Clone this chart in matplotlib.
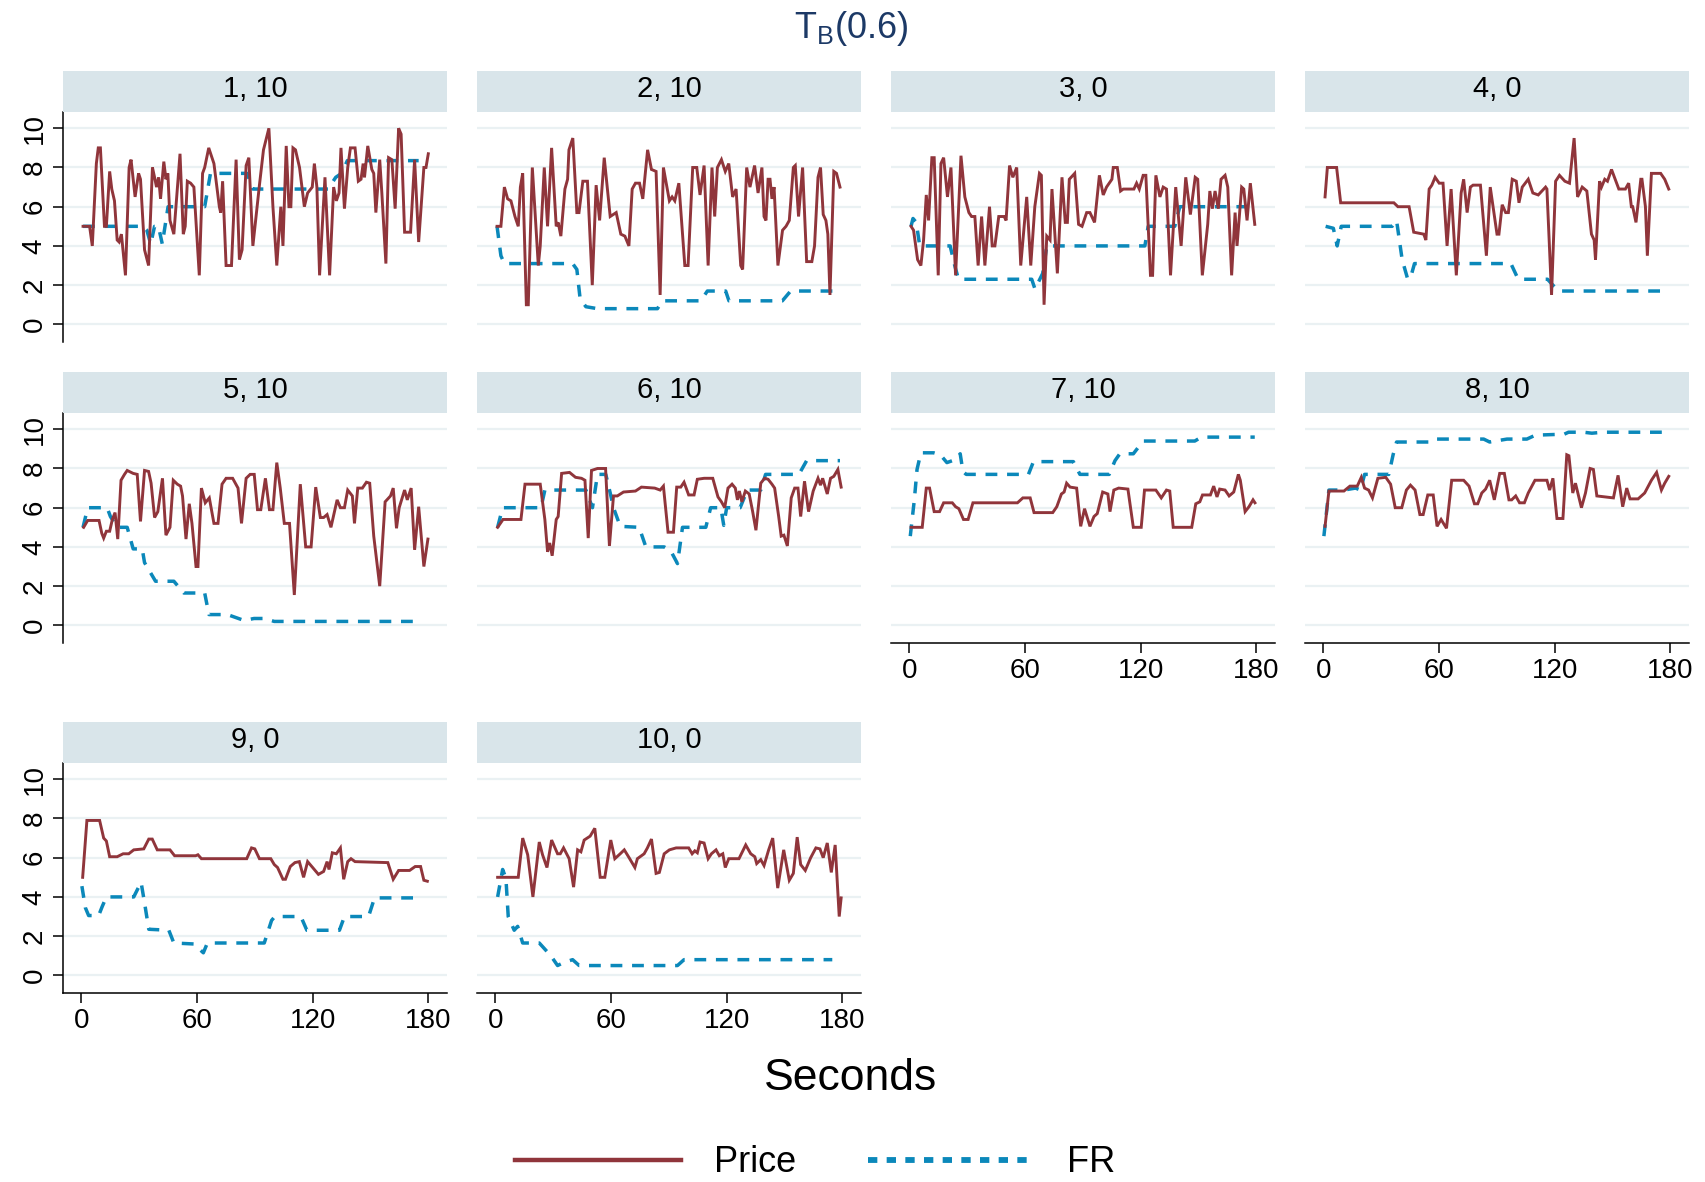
import matplotlib
matplotlib.use("Agg")
import matplotlib.pyplot as plt
from matplotlib.lines import Line2D

plt.rcParams['font.family'] = ['Liberation Sans', 'DejaVu Sans']
plt.rcParams['mathtext.fontset'] = 'custom'
plt.rcParams['mathtext.rm'] = 'Liberation Sans'

# ---------------------------------------------------------------- data
# (second, value) pairs for each market; FR = fundamental reference
panel_titles = ["1, 10", "2, 10", "3, 0", "4, 0", "5, 10",
                "6, 10", "7, 10", "8, 10", "9, 0", "10, 0"]

p1_price = [(0.9,5.0),(4.3,5.0),(5.7,4.0),(7.8,8.2),(8.8,9.0),(9.9,9.0),(12.0,5.0),(13.0,5.0),
            (14.7,7.8),(15.8,6.9),(17.2,6.3),(18.6,4.3),(19.6,4.2),(20.8,4.6),(22.9,2.5),(24.8,8.0),
            (25.8,8.4),(27.9,6.5),(29.7,7.7),(30.7,7.4),(32.8,3.8),(34.9,3.0),(36.9,8.0),(38.0,7.5),
            (39.0,7.0),(40.1,7.5),(41.1,6.4),(42.8,8.3),(43.9,7.4),(44.9,7.7),(46.0,5.3),(48.0,4.6),
            (51.2,8.7),(52.9,4.6),(53.9,5.0),(55.0,7.3),(56.7,7.2),(58.4,7.0),(61.2,2.5),(62.9,7.7),
            (64.0,8.0),(66.1,9.0),(68.8,8.2),(71.6,6.0),(72.3,5.7),(73.3,7.3),(75.1,3.0),(77.9,3.0),
            (80.3,8.4),(82.0,3.3),(83.4,3.8),(85.5,8.1),(86.9,8.5),(89.0,4.0),(92.4,7.1),(94.5,8.9),
            (97.3,10.0),(99.4,6.0),(101.4,3.0),(103.5,6.0),(104.6,4.0),(106.3,9.1),(107.7,6.0),(108.7,6.0),
            (109.8,9.0),(111.1,8.9),(113.2,8.0),(115.7,6.0),(117.4,6.7),(119.8,7.0),(120.9,8.2),(122.2,7.0),
            (123.6,2.5),(126.4,7.5),(128.8,2.5),(130.9,7.0),(132.3,6.3),(133.7,6.7),(134.7,9.0),(136.5,5.9),
            (138.2,8.0),(139.6,9.0),(142.0,9.0),(143.7,7.3),(145.1,7.4),(146.2,8.2),(146.9,7.5),(148.6,9.1),
            (150.7,7.9),(151.7,7.7),(152.8,5.7),(154.8,8.4),(155.9,6.7),(158.0,3.1),(159.4,8.5),(161.1,8.4),
            (162.8,5.9),(164.6,10.0),(165.9,9.7),(167.7,4.7),(170.8,4.7),(172.9,8.4),(175.0,4.2),(177.7,8.0),
            (178.8,8.0),(180.0,8.7)]
p1_fr = [(0.9,5.0),(32.0,5.0),(34.0,4.8),(36.0,4.1),(38.0,5.0),(40.0,5.0),(42.0,4.1),(45.0,6.0),
         (64.0,6.0),(67.0,7.7),(86.0,7.7),(89.0,6.9),(128.0,6.9),(132.0,7.5),(135.0,7.7),(138.0,8.35),
         (175.0,8.35)]

p2_price = [(0.9,5.0),(2.9,5.0),(4.7,7.0),(6.4,6.4),(8.1,6.3),(10.2,5.5),(11.9,5.0),(13.0,7.0),
            (14.2,7.7),(16.1,1.0),(17.1,1.0),(19.2,8.0),(22.3,3.0),(23.3,4.0),(25.4,8.0),(27.1,5.0),
            (29.2,9.0),(31.6,5.0),(32.6,5.2),(34.0,4.5),(36.1,6.9),(37.5,7.4),(38.2,8.9),(40.2,9.5),
            (42.3,5.7),(43.4,5.7),(45.4,7.3),(47.8,7.3),(50.3,2.0),(52.3,7.1),(54.1,5.3),(56.5,8.5),
            (59.6,5.5),(62.7,5.7),(65.1,4.6),(67.2,4.5),(69.3,4.0),(71.0,6.9),(72.7,7.2),(74.8,7.2),
            (76.5,6.4),(79.0,8.9),(81.0,7.9),(83.4,7.8),(85.5,1.5),(87.2,8.0),(90.3,6.3),(91.7,6.5),
            (93.1,6.3),(95.2,7.2),(98.3,3.0),(100.0,3.0),(102.4,8.0),(104.5,8.0),(106.2,6.6),(108.3,8.1),
            (110.4,3.0),(112.4,8.0),(113.8,5.5),(115.2,8.0),(117.3,8.4),(119.3,7.8),(121.1,8.2),(123.1,6.5),
            (124.9,6.9),(127.3,3.0),(128.3,2.8),(130.4,8.0),(132.1,7.0),(134.5,8.1),(136.3,6.7),(138.3,8.0),
            (139.4,5.5),(140.4,5.3),(141.5,7.4),(142.5,7.4),(143.5,6.4),(144.6,7.0),(146.6,3.0),(149.0,4.8),
            (150.8,5.0),(152.5,5.3),(154.6,8.0),(155.6,8.1),(157.3,5.5),(159.4,8.0),(161.5,3.2),(164.2,3.2),
            (165.6,4.0),(167.4,7.5),(168.7,8.0),(170.1,5.6),(171.5,5.3),(172.5,4.6),(173.6,1.5),(175.6,7.8),
            (177.0,7.7),(178.8,7.0)]
p2_fr = [(0.9,5.0),(2.9,3.5),(4.7,3.1),(40.1,3.1),(42.3,2.8),(44.0,1.3),(47.0,0.9),(53.0,0.8),
         (84.1,0.8),(86.7,1.2),(106.6,1.2),(110.0,1.7),(119.5,1.7),(121.2,1.2),(148.9,1.2),(153.2,1.7),
         (178.8,1.7)]

p3_price = [(0.9,5.0),(2.2,4.8),(4.3,3.3),(6.0,3.0),(7.4,4.3),(8.8,6.6),(10.0,5.3),(11.7,8.5),
            (12.9,8.5),(15.0,2.5),(16.4,8.2),(17.8,8.5),(19.8,6.5),(21.6,8.0),(24.0,2.5),(26.8,8.6),
            (28.8,6.5),(30.9,5.7),(32.3,5.5),(34.0,5.5),(35.7,3.0),(37.5,5.5),(39.2,3.0),(41.6,6.0),
            (43.0,4.0),(44.4,4.0),(46.4,5.5),(49.2,5.5),(50.2,5.3),(52.0,8.1),(53.7,7.5),(55.7,8.0),
            (57.8,3.0),(60.9,6.5),(63.0,3.0),(65.1,6.0),(67.5,7.7),(68.5,7.6),(69.9,1.0),(71.3,4.5),
            (73.0,4.3),(74.0,6.9),(76.8,2.6),(79.2,7.5),(80.9,5.2),(82.0,5.2),(83.0,7.4),(85.8,7.7),
            (87.8,5.1),(89.6,5.0),(92.0,5.7),(93.7,5.7),(96.1,5.2),(98.6,7.6),(100.6,6.6),(102.3,7.0),
            (105.1,7.4),(105.8,8.0),(107.9,8.0),(109.6,6.8),(111.0,6.9),(116.5,6.9),(117.9,7.2),(119.3,6.9),
            (121.3,7.6),(122.7,7.6),(125.1,2.5),(126.2,2.5),(127.9,7.6),(130.0,6.5),(131.7,7.0),(133.4,6.9),
            (135.5,2.5),(138.2,7.0),(141.0,4.0),(143.4,7.5),(145.8,5.6),(148.3,7.5),(149.6,7.4),(152.0,2.5),
            (154.8,5.1),(155.9,6.8),(157.2,5.9),(158.6,6.8),(160.3,5.9),(161.7,7.4),(163.8,7.6),(165.2,7.0),
            (167.2,2.5),(169.0,5.7),(170.0,4.0),(172.4,7.0),(173.5,6.9),(175.2,5.3),(176.9,7.2),(179.2,5.1)]
p3_fr = [(0.9,5.0),(1.9,5.4),(3.6,5.2),(5.4,4.0),(21.2,4.0),(23.3,3.1),(25.5,2.3),(63.5,2.3),
         (65.2,1.8),(69.2,2.6),(71.3,4.0),(122.2,4.0),(123.9,5.0),(137.7,5.0),(140.3,6.0),(176.2,6.0)]

p4_price = [(0.9,6.5),(2.1,8.0),(6.9,8.0),(9.0,6.2),(36.6,6.2),(38.7,6.0),(44.5,6.0),(46.9,4.7),
            (52.1,4.6),(53.2,4.3),(54.9,6.9),(56.3,7.1),(58.0,7.5),(60.1,7.2),(62.1,7.2),(64.2,4.0),
            (66.3,6.9),(69.0,2.5),(71.5,6.7),(72.8,7.4),(74.6,5.7),(76.3,7.0),(77.7,7.1),(81.5,7.1),
            (84.6,3.5),(86.6,7.0),(90.1,4.6),(91.1,4.6),(92.8,6.1),(94.6,5.7),(96.0,5.7),(98.0,7.4),
            (100.1,7.3),(101.5,6.2),(103.2,7.0),(106.3,7.4),(108.7,6.7),(111.5,6.6),(115.3,7.0),(116.0,6.9),
            (118.4,1.5),(120.5,7.3),(122.5,7.6),(125.3,7.3),(127.7,7.2),(130.1,9.5),(131.9,6.5),(134.3,7.0),
            (136.7,6.8),(139.1,4.6),(140.5,4.3),(141.2,3.3),(143.3,7.3),(144.3,7.0),(146.0,7.4),(147.4,7.3),
            (149.5,7.9),(153.3,6.9),(156.7,6.9),(158.4,7.2),(159.8,6.0),(160.5,6.0),(162.2,5.2),(164.7,7.4),
            (165.3,7.4),(167.1,6.0),(168.1,3.5),(170.2,7.7),(175.0,7.7),(177.1,7.4),(179.2,6.9)]
p4_fr = [(1.2,5.0),(5.2,4.9),(7.2,4.0),(9.3,5.0),(35.7,5.0),(38.0,5.3),(40.9,3.3),(43.8,2.3),
         (45.6,2.5),(47.3,3.1),(97.3,3.1),(101.1,2.3),(116.3,2.3),(119.1,2.0),(122.0,1.7),(179.0,1.7)]

p5_price = [(1.2,5.0),(3.3,5.35),(9.2,5.35),(10.6,4.7),(11.6,4.45),(13.0,4.8),(14.7,4.8),(16.1,5.4),
            (17.5,5.75),(18.9,4.4),(20.6,7.4),(22.4,7.7),(23.8,7.9),(26.9,7.75),(29.0,7.7),(30.7,5.3),
            (32.8,7.9),(34.9,7.85),(36.2,7.25),(38.0,5.5),(39.7,5.8),(42.1,7.5),(43.9,4.6),(46.0,5.0),
            (47.7,7.4),(49.8,7.2),(51.5,7.1),(52.5,6.6),(54.3,4.4),(56.0,6.2),(57.4,5.2),(59.5,3.0),
            (60.5,3.0),(62.3,7.0),(64.3,6.25),(66.4,6.5),(68.8,5.2),(70.9,5.2),(73.0,7.2),(75.1,7.5),
            (78.5,7.5),(81.3,7.0),(83.1,5.2),(85.5,7.5),(87.6,7.7),(89.7,7.7),(91.4,5.9),(93.1,5.9),
            (95.5,7.5),(97.6,5.9),(99.4,5.9),(101.4,8.3),(103.2,7.0),(105.3,5.2),(108.0,5.2),(110.5,1.55),
            (113.6,7.2),(116.4,4.0),(119.2,4.0),(121.6,7.05),(124.0,5.5),(125.7,5.5),(127.5,5.65),(129.5,5.0),
            (132.7,6.4),(134.4,6.0),(136.5,6.0),(138.2,6.9),(140.6,6.6),(141.7,5.2),(143.4,7.0),(145.8,7.0),
            (147.9,7.3),(149.6,7.25),(151.7,4.55),(154.8,2.0),(157.6,6.3),(160.4,6.6),(161.8,7.0),(163.5,4.95),
            (164.9,6.0),(167.7,6.9),(169.1,6.4),(171.1,7.0),(172.9,3.85),(175.0,6.05),(177.7,3.0),(179.8,4.4)]
p5_fr = [(0.9,5.0),(3.3,6.0),(13.4,6.0),(15.1,5.55),(18.6,5.0),(23.8,5.0),(26.9,3.9),(31.6,3.9),
         (32.8,3.2),(38.5,2.25),(48.0,2.25),(53.2,1.65),(64.0,1.65),(66.2,0.55),(75.8,0.55),(84.4,0.25),
         (89.6,0.35),(94.9,0.35),(100.1,0.2),(102.7,0.2),(175.5,0.2)]

p6_price = [(1.2,5.0),(4.0,5.4),(13.3,5.4),(15.4,7.2),(23.3,7.2),(25.7,5.4),(27.1,3.75),(28.2,4.2),
            (29.5,3.55),(31.6,5.4),(32.6,5.55),(34.4,7.75),(38.5,7.8),(41.6,7.55),(44.7,7.5),(46.5,7.4),
            (48.2,4.45),(49.9,7.9),(53.0,8.0),(57.2,8.0),(59.2,4.05),(61.3,6.6),(63.3,6.6),(66.5,6.8),
            (72.7,6.85),(75.8,7.05),(82.7,7.0),(85.5,6.9),(87.2,7.1),(89.6,4.75),(92.4,4.75),(94.1,7.05),
            (96.2,7.05),(97.9,7.3),(100.3,6.65),(103.1,6.65),(104.8,7.45),(108.3,7.5),(112.8,7.5),(115.5,6.55),
            (117.3,6.3),(119.0,6.0),(120.7,7.0),(122.8,7.2),(124.5,7.0),(125.6,6.4),(126.6,6.85),(127.9,6.3),
            (129.7,6.85),(131.7,6.7),(133.5,5.8),(135.2,4.85),(137.7,7.25),(139.7,7.5),(141.5,7.45),(143.5,7.2),
            (144.9,7.0),(147.0,5.55),(148.3,4.55),(149.7,4.6),(151.5,4.05),(153.5,6.5),(155.3,7.0),(157.0,7.0),
            (158.4,5.55),(160.4,7.35),(162.5,5.8),(164.9,6.85),(167.4,7.5),(168.7,7.15),(169.8,7.5),(172.2,6.7),
            (173.9,7.5),(175.6,7.6),(177.7,7.95),(179.4,7.05)]
p6_fr = [(1.2,5.0),(3.8,6.0),(23.7,6.0),(25.7,6.9),(47.0,6.9),(50.4,6.0),(53.0,7.7),(57.3,7.7),
         (59.6,6.75),(61.3,6.0),(64.8,5.05),(74.6,5.0),(78.1,4.0),(87.6,4.0),(91.0,3.8),(94.5,3.15),
         (97.1,5.0),(109.2,5.0),(111.7,6.0),(117.0,6.0),(118.5,5.1),(120.0,6.0),(127.0,6.0),(130.7,6.9),
         (137.7,6.9),(140.2,7.7),(157.5,7.7),(161.5,8.4),(178.8,8.4)]

p7_price = [(0.9,5.0),(6.7,5.0),(8.8,7.0),(10.5,7.0),(12.9,5.8),(15.7,5.8),(17.8,6.25),(22.3,6.25),
            (24.0,6.05),(25.7,5.95),(28.1,5.4),(30.5,5.4),(33.0,6.25),(56.1,6.25),(58.9,6.5),(62.7,6.5),
            (64.7,5.75),(74.4,5.75),(76.5,6.05),(78.9,6.7),(80.3,6.8),(81.6,7.25),(83.4,7.05),(86.8,7.0),
            (88.9,5.05),(90.9,5.95),(93.7,5.05),(95.8,5.55),(97.5,5.7),(100.3,6.8),(103.0,6.7),(104.1,5.8),
            (106.1,6.9),(108.6,7.0),(113.4,6.95),(116.2,5.0),(120.3,5.0),(122.0,6.9),(127.9,6.9),(130.7,6.5),
            (133.4,6.9),(135.1,6.85),(136.9,5.0),(146.5,5.0),(148.6,6.2),(150.7,6.3),(152.1,6.65),(156.2,6.65),
            (157.9,7.1),(159.6,6.55),(161.0,6.95),(163.8,6.9),(165.9,6.6),(168.3,6.8),(170.7,7.7),(171.7,7.4),
            (174.2,5.8),(176.2,6.05),(178.3,6.4),(179.3,6.25)]
p7_fr = [(0.5,4.55),(2.6,6.4),(4.0,7.95),(6.0,8.8),(12.6,8.8),(16.1,8.7),(19.5,8.3),(23.8,8.45),
         (26.4,8.75),(27.8,7.85),(29.5,7.7),(61.8,7.7),(64.4,8.35),(85.1,8.35),(88.5,7.7),(103.7,7.7),
         (106.7,8.4),(109.2,8.75),(116.2,8.75),(121.3,9.4),(148.1,9.4),(151.5,9.6),(179.2,9.6)]

p8_price = [(0.9,5.05),(2.9,6.85),(10.7,6.85),(13.8,7.1),(17.6,7.1),(19.7,7.55),(21.4,7.0),(23.5,6.9),
            (25.5,6.5),(28.3,7.5),(32.4,7.55),(34.9,7.2),(37.3,6.0),(40.7,6.0),(43.1,6.9),(45.2,7.15),
            (47.6,6.9),(50.1,5.65),(51.8,5.65),(54.2,6.65),(57.0,6.65),(59.0,5.05),(61.1,5.4),(63.9,4.95),
            (66.6,7.4),(72.8,7.4),(75.6,7.1),(78.4,6.2),(80.1,6.2),(82.2,6.75),(84.2,6.95),(86.3,7.4),
            (88.7,6.4),(91.5,7.75),(93.9,7.75),(96.3,6.4),(97.7,6.4),(99.8,6.6),(101.8,6.25),(104.3,6.25),
            (106.3,6.75),(109.8,7.4),(116.0,7.4),(117.4,6.9),(119.1,7.5),(121.2,5.45),(124.3,5.45),(126.3,8.7),
            (127.4,8.65),(129.4,6.75),(130.8,7.25),(133.9,6.0),(136.0,6.75),(138.4,8.0),(140.1,7.95),(141.9,6.6),
            (150.5,6.5),(152.9,7.65),(155.3,6.05),(157.4,7.0),(159.1,6.45),(163.3,6.45),(166.7,6.75),(170.2,7.4),
            (172.9,7.8),(175.4,6.9),(177.1,7.25),(179.2,7.6)]
p8_fr = [(0.3,4.55),(2.9,6.9),(10.7,6.9),(16.7,7.0),(19.3,6.9),(21.4,7.7),(34.0,7.7),(36.2,8.7),
         (38.0,9.35),(55.6,9.35),(57.6,9.5),(83.2,9.5),(86.3,9.35),(95.3,9.5),(105.6,9.5),(110.0,9.7),
         (125.0,9.75),(127.2,9.85),(135.0,9.85),(139.3,9.8),(145.3,9.85),(179.0,9.85)]

p9_price = [(0.7,5.0),(2.9,7.9),(9.5,7.9),(11.6,7.0),(13.0,6.85),(14.7,6.05),(18.6,6.05),(21.7,6.2),
            (24.6,6.2),(27.2,6.4),(32.4,6.45),(35.0,6.95),(36.8,6.95),(39.4,6.4),(46.0,6.4),(48.4,6.1),
            (59.3,6.1),(60.5,6.15),(62.3,5.95),(85.8,5.95),(88.3,6.5),(90.0,6.45),(92.4,5.95),(98.3,5.95),
            (100.1,5.65),(101.8,5.5),(104.6,4.9),(105.9,4.9),(108.4,5.55),(110.8,5.75),(113.1,5.8),(115.3,5.0),
            (117.4,5.8),(120.0,5.5),(123.0,5.15),(125.7,5.3),(127.5,5.8),(128.5,5.4),(130.2,6.25),(132.3,6.2),
            (134.4,6.5),(136.1,4.9),(138.2,5.8),(139.9,5.95),(142.0,5.8),(159.0,5.75),(161.8,4.9),(164.6,5.35),
            (170.3,5.35),(173.2,5.55),(176.0,5.55),(177.7,4.85),(179.5,4.8)]
p9_fr = [(0.3,4.55),(2.1,3.45),(3.8,3.05),(9.0,3.05),(10.8,3.5),(13.0,4.0),(27.2,4.0),(31.0,4.75),
         (32.8,3.7),(35.0,2.35),(45.4,2.3),(48.0,1.65),(58.4,1.6),(63.3,1.15),(65.4,1.65),(94.9,1.65),
         (98.7,2.8),(100.4,3.0),(113.9,3.0),(117.0,2.3),(133.9,2.3),(136.5,3.0),(149.0,3.0),(152.1,3.95),
         (174.6,3.95)]

p10_price = [(1.2,5.0),(11.9,5.0),(14.2,7.0),(16.8,6.15),(19.5,4.0),(22.8,6.8),(24.5,6.15),(26.8,5.5),
             (29.2,6.9),(32.3,6.2),(33.7,6.2),(35.4,6.5),(38.3,5.95),(40.6,4.5),(42.7,6.4),(44.4,6.3),
             (46.1,6.9),(49.2,7.1),(51.6,7.5),(54.4,5.0),(56.8,5.0),(59.9,6.9),(62.0,5.95),(64.8,6.2),
             (66.9,6.4),(69.4,6.0),(72.4,5.5),(73.7,5.95),(77.2,6.2),(78.9,6.5),(81.0,6.95),(83.4,5.2),
             (85.1,5.25),(87.6,6.2),(90.3,6.4),(93.8,6.5),(97.2,6.5),(100.3,6.5),(102.1,6.2),(103.5,6.35),
             (104.8,6.25),(106.2,6.8),(108.3,6.75),(110.4,5.95),(112.1,6.2),(114.5,6.4),(116.2,6.1),(118.0,6.2),
             (119.3,5.5),(121.1,5.95),(126.4,5.95),(129.9,6.65),(132.5,6.2),(134.6,6.05),(135.6,5.7),(137.7,5.9),
             (139.4,5.6),(141.8,6.4),(143.9,7.0),(146.5,4.45),(149.6,6.4),(152.5,4.85),(154.6,5.2),(156.6,7.05),
             (158.4,5.65),(160.8,5.35),(163.6,6.0),(166.3,6.5),(168.4,6.45),(170.1,6.0),(172.2,6.75),(174.3,5.25),
             (176.3,6.65),(178.4,3.0),(179.4,3.95)]
p10_fr = [(1.2,4.0),(3.8,5.4),(5.5,4.95),(6.7,3.0),(9.8,2.3),(11.6,2.5),(14.2,1.65),(22.8,1.65),
          (28.8,1.0),(32.3,0.5),(35.4,0.65),(40.1,0.8),(43.5,0.5),(94.5,0.5),(97.9,0.8),(174.8,0.8)]

price_series = [p1_price, p2_price, p3_price, p4_price, p5_price,
                p6_price, p7_price, p8_price, p9_price, p10_price]
fr_series = [p1_fr, p2_fr, p3_fr, p4_fr, p5_fr, p6_fr, p7_fr, p8_fr, p9_fr, p10_fr]

y_ticks = [0, 2, 4, 6, 8, 10]
x_ticks = [0, 60, 120, 180]

# ---------------------------------------------------------------- style
PRICE_C = '#90353b'
FR_C = '#0b88ba'
STRIP_C = '#d9e5ea'
GRID_C = '#eaf1f3'
TITLE_C = '#1c3966'
FR_DASH = (0, (3.4, 2.8))

W, H = 1706, 1182
fig = plt.figure(figsize=(W / 100, H / 100), dpi=100)

col_left = [63, 477, 891, 1305]
row_top = [112, 413, 763]
AX_W, AX_H, STRIP_H = 384, 230, 41
n_cols = 4
n_panels = len(panel_titles)


def px_rect(left, top, width, height):
    return [left / W, 1 - (top + height) / H, width / W, height / H]


for i, title in enumerate(panel_titles):
    r, c = divmod(i, n_cols)
    left, top = col_left[c], row_top[r]

    ax = fig.add_axes(px_rect(left, top, AX_W, AX_H))
    pt, pv = zip(*price_series[i])
    ft, fv = zip(*fr_series[i])
    ax.plot(pt, pv, color=PRICE_C, lw=2.1, solid_joinstyle='miter', zorder=3)
    ax.plot(ft, fv, color=FR_C, lw=2.5, linestyle=FR_DASH, zorder=2)

    ax.set_xlim(-9.5, 189.7)
    ax.set_ylim(-0.9, 10.83)
    ax.set_yticks(y_ticks)
    ax.set_xticks(x_ticks)
    ax.grid(axis='y', color=GRID_C, lw=1.6, zorder=0)
    ax.set_axisbelow(True)
    for s in ('top', 'right'):
        ax.spines[s].set_visible(False)

    show_left = (c == 0)
    show_bottom = (i + n_cols >= n_panels)
    ax.spines['left'].set_visible(show_left)
    ax.spines['bottom'].set_visible(show_bottom)
    ax.spines['left'].set_linewidth(1.1)
    ax.spines['bottom'].set_linewidth(1.1)
    ax.tick_params(axis='y', left=show_left, labelleft=show_left, length=7, width=1.1,
                   labelsize=20, pad=4)
    ax.tick_params(axis='x', bottom=show_bottom, labelbottom=show_bottom, length=7,
                   width=1.1, labelsize=20, pad=4)
    if show_left:
        for lab in ax.get_yticklabels():
            lab.set_rotation(90)
            lab.set_va('center')

    sax = fig.add_axes(px_rect(left, top - STRIP_H, AX_W, STRIP_H))
    sax.set_facecolor(STRIP_C)
    sax.set_xticks([])
    sax.set_yticks([])
    for s in sax.spines.values():
        s.set_visible(False)
    sax.text(0.5, 0.55, title, ha='center', va='center', fontsize=21,
             transform=sax.transAxes)

fig.text(851 / W, 1 - 28 / H, r'T$_{\mathrm{B}}$(0.6)', ha='center', va='center',
         fontsize=26, color=TITLE_C)
fig.text(851 / W, 1 - 1078 / H, 'Seconds', ha='center', va='center', fontsize=32)

handles = [Line2D([], [], color=PRICE_C, lw=3.2),
           Line2D([], [], color=FR_C, lw=4.2, linestyle=(0, (1.6, 1.6)))]
fig.legend(handles, ['Price', 'FR'], loc='center', bbox_to_anchor=(815 / W, 1 - 1163 / H),
           ncol=2, frameon=False, fontsize=26, handlelength=4.6, handletextpad=0.9,
           columnspacing=2.0)

fig.savefig('out.png', dpi=100)
